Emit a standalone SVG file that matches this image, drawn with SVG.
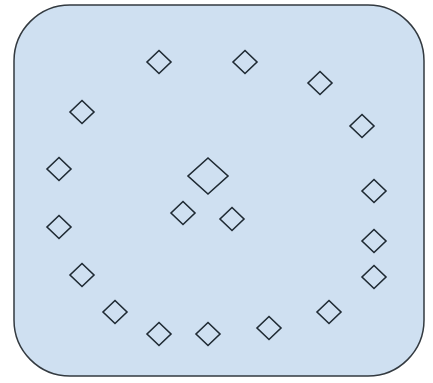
<svg xmlns="http://www.w3.org/2000/svg" xmlns:xlink="http://www.w3.org/1999/xlink" width="433" height="383" viewBox="0 0 433 383">
<style>
.bg{fill:#cfe0f1;stroke:#333a40;stroke-width:1.5}
.d{fill:none;stroke:#1f2a33;stroke-width:1.6}
</style>
<defs>
<path id="sd" class="d" d="M0,-11.5 L12,0 L0,11.5 L-12,0 Z"/>
<path id="bd" class="d" d="M0,-18 L20,0 L0,18 L-20,0 Z"/>
</defs>
<rect x="0" y="0" width="433" height="383" fill="#ffffff"/>
<g id="frame"><rect class="bg" x="14" y="5" width="410" height="371" rx="56" ry="56"/></g>
<g id="connectors"></g>
<g id="n1"><use xlink:href="#sd" x="159" y="62"/></g>
<g id="n2"><use xlink:href="#sd" x="245" y="62"/></g>
<g id="n3"><use xlink:href="#sd" x="320" y="83"/></g>
<g id="n4"><use xlink:href="#sd" x="82" y="112"/></g>
<g id="n5"><use xlink:href="#sd" x="362" y="126"/></g>
<g id="n6"><use xlink:href="#sd" x="59" y="169"/></g>
<g id="center"><use xlink:href="#bd" x="208" y="176"/></g>
<g id="n7"><use xlink:href="#sd" x="374" y="191"/></g>
<g id="n8"><use xlink:href="#sd" x="183" y="213"/></g>
<g id="n9"><use xlink:href="#sd" x="232" y="219"/></g>
<g id="n10"><use xlink:href="#sd" x="59" y="227"/></g>
<g id="n11"><use xlink:href="#sd" x="374" y="241"/></g>
<g id="n12"><use xlink:href="#sd" x="82" y="275"/></g>
<g id="n13"><use xlink:href="#sd" x="374" y="277"/></g>
<g id="n14"><use xlink:href="#sd" x="115" y="312"/></g>
<g id="n15"><use xlink:href="#sd" x="329" y="312"/></g>
<g id="n16"><use xlink:href="#sd" x="159" y="334"/></g>
<g id="n17"><use xlink:href="#sd" x="208" y="334"/></g>
<g id="n18"><use xlink:href="#sd" x="269" y="328"/></g>
</svg>
